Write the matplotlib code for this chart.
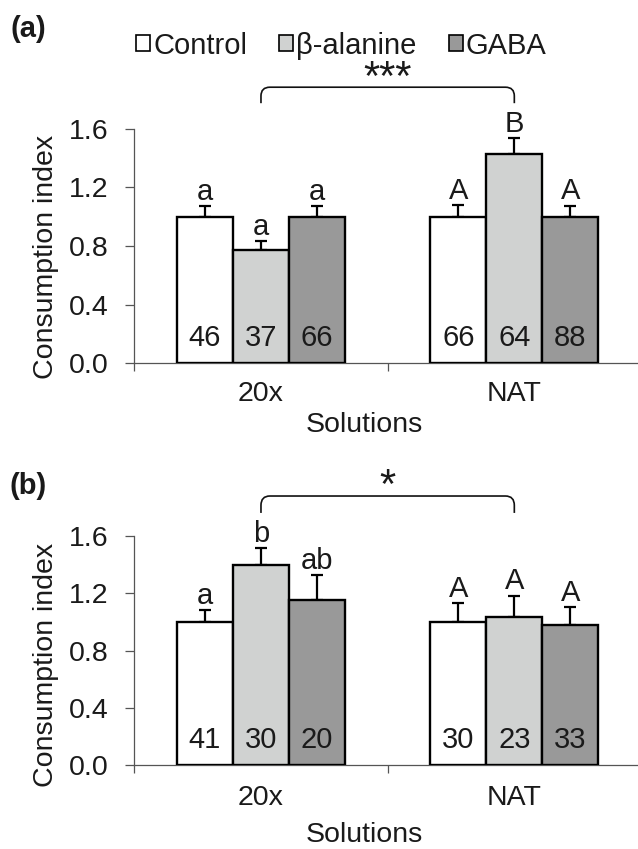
import matplotlib
matplotlib.use("Agg")
import matplotlib.pyplot as plt
import numpy as np
from matplotlib.patches import Patch, PathPatch
from matplotlib.path import Path

plt.rcParams['font.family'] = ['Liberation Sans', 'DejaVu Sans']
plt.rcParams['text.color'] = '#1a1a1a'
plt.rcParams['xtick.labelcolor'] = '#1a1a1a'
plt.rcParams['ytick.labelcolor'] = '#1a1a1a'
plt.rcParams['axes.labelcolor'] = '#1a1a1a'

# ---------------- data ----------------
groups = ["20x", "NAT"]
treatments = ["Control", "β-alanine", "GABA"]
colors = ["#FFFFFF", "#D0D2D1", "#999999"]

a_means = [[1.00, 0.775, 1.00], [1.00, 1.43, 1.00]]
a_errs = [[0.071, 0.059, 0.070], [0.078, 0.105, 0.075]]
a_letters = [["a", "a", "a"], ["A", "B", "A"]]
a_counts = [[46, 37, 66], [66, 64, 88]]
a_sig = "***"

b_means = [[1.00, 1.398, 1.153], [1.00, 1.033, 0.981]]
b_errs = [[0.082, 0.118, 0.175], [0.133, 0.151, 0.122]]
b_letters = [["a", "b", "ab"], ["A", "A", "A"]]
b_counts = [[41, 30, 20], [30, 23, 33]]
b_sig = "*"

yticks = [0.0, 0.4, 0.8, 1.2, 1.6]
ylab = "Consumption index"
xlab = "Solutions"

W, H = 638, 849
fig = plt.figure(figsize=(W / 100, H / 100), dpi=100)

bw = 0.221
offsets = [-bw, 0.0, bw]
FS = 21
spine_c = "#555555"


def panel(rect, means, errs, letters, counts, sig, brk_line, brk_drop,
          sig_y, xlab_y, xtick_pad, ylab_y):
    ax = fig.add_axes(rect)
    ax.set_xlim(-0.5, 1.5)
    ax.set_ylim(0, 1.6)
    for gi, g in enumerate(groups):
        for ti in range(3):
            x = gi + offsets[ti]
            m = means[gi][ti]
            e = errs[gi][ti]
            ax.bar(x, m, width=bw, color=colors[ti], edgecolor="black",
                   linewidth=1.7, zorder=3)
            ax.errorbar(x, m, yerr=[[0], [e]], fmt="none", ecolor="black",
                        elinewidth=1.6, capsize=4.5, capthick=1.6, zorder=2)
            ax.annotate(letters[gi][ti], (x, m + e), xytext=(0, 4.5),
                        textcoords="offset points", ha="center",
                        va="baseline", fontsize=FS)
            ax.text(x, 0.118, str(counts[gi][ti]), ha="center",
                    va="baseline", fontsize=FS, zorder=4)
    # bracket between the two beta-alanine bars
    x0 = 0 + offsets[1]
    x1 = 1 + offsets[1]
    dx = 0.035
    dy = (brk_line - brk_drop) * 0.55
    verts = [(x0, brk_drop), (x0, brk_line - dy), (x0, brk_line),
             (x0 + dx, brk_line), (x1 - dx, brk_line), (x1, brk_line),
             (x1, brk_line - dy), (x1, brk_drop)]
    codes = [Path.MOVETO, Path.LINETO, Path.CURVE3, Path.CURVE3, Path.LINETO,
             Path.CURVE3, Path.CURVE3, Path.LINETO]
    ax.add_patch(PathPatch(Path(verts, codes), facecolor="none",
                           edgecolor="#111111", linewidth=1.2, clip_on=False))
    ax.text((x0 + x1) / 2, sig_y, sig, ha="center", va="center",
            fontsize=30, clip_on=False)

    for s in ["top", "right"]:
        ax.spines[s].set_visible(False)
    for s in ["left", "bottom"]:
        ax.spines[s].set_color(spine_c)
        ax.spines[s].set_linewidth(0.9)
    ax.set_yticks(yticks)
    ax.set_yticklabels([f"{v:.1f}" for v in yticks])
    ax.tick_params(axis="y", direction="out", length=6.5, width=0.9,
                   color=spine_c, pad=12, labelsize=20.5)
    ax.set_xticks([-0.5, 0.5, 1.5])
    ax.set_xticklabels([])
    ax.tick_params(axis="x", which="major", direction="out", length=6,
                   width=0.9, color=spine_c)
    ax.set_xticks([0, 1], minor=True)
    ax.set_xticklabels(groups, minor=True)
    ax.tick_params(axis="x", which="minor", length=0, pad=xtick_pad,
                   labelsize=20.5)
    ax.set_ylabel(ylab, fontsize=20.5)
    ax.yaxis.set_label_coords(-0.149, ylab_y)
    ax.set_xlabel(xlab, fontsize=20.5)
    ax.xaxis.set_label_coords(0.454, xlab_y)
    ax.xaxis.label.set_va("top")
    return ax


left = 134.3 / W
width = 506.7 / W
axa = panel([left, 1 - 363.3 / H, width, 234.6 / H], a_means, a_errs,
            a_letters, a_counts, a_sig, 1.883, 1.774, 1.94, -0.2076, 13.0,
            0.455)
axb = panel([left, 1 - 765.3 / H, width, 229.3 / H], b_means, b_errs,
            b_letters, b_counts, b_sig, 1.879, 1.761, 1.94, -0.246, 14.5,
            0.437)

fig.text(11 / W, 1 - 29 / H, "(a)", fontsize=21, fontweight="bold",
         ha="left", va="center")
fig.text(10 / W, 1 - 486 / H, "(b)", fontsize=21, fontweight="bold",
         ha="left", va="center")

handles = [Patch(facecolor=c, edgecolor="black", linewidth=1.2)
           for c in colors]
fig.legend(handles, treatments, loc="center",
           bbox_to_anchor=(341.5 / W, 1 - 45.5 / H), ncol=3, frameon=False,
           fontsize=21, handlelength=0.48, handleheight=0.48,
           handletextpad=0.1, columnspacing=1.1, borderpad=0, borderaxespad=0)

fig.savefig("out.png", dpi=100)
